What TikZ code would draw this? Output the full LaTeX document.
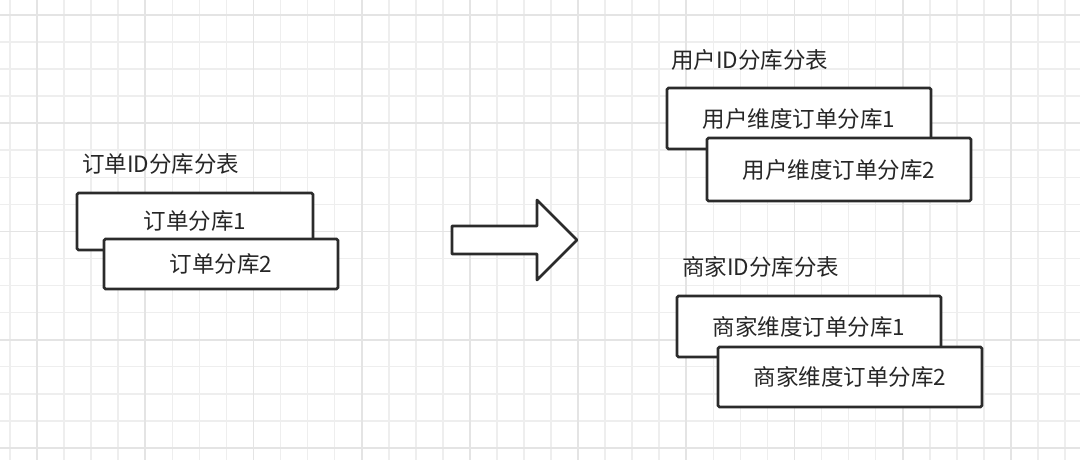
\documentclass[tikz,border=0pt]{standalone}
\usepackage{fontspec}
\setmainfont{Noto Sans CJK SC}
\definecolor{gridminor}{HTML}{EEEEEE}
\definecolor{gridmajor}{HTML}{E4E4E4}
\definecolor{ink}{HTML}{2B2B2B}
\definecolor{txt}{HTML}{262626}
\begin{document}
\begin{tikzpicture}[x=1pt,y=-1pt,
  box/.style={draw=ink, line width=2.7pt, fill=white, rounded corners=1.5pt,
    minimum width=236pt, minimum height=57pt, inner sep=0pt,
    font=\fontsize{22.5}{26}\selectfont, text=txt},
  widebox/.style={box, minimum width=264pt, minimum height=61pt},
  title/.style={anchor=west, inner sep=0pt, font=\fontsize{22.5}{26}\selectfont, text=txt}]
\useasboundingbox (0,0) rectangle (1080,460);
\fill[white] (0,0) rectangle (1080,460);
% grid
\foreach \i in {0,...,39}{
  \draw[gridminor, line width=1.6pt] ({10+27.05*\i},0) -- ({10+27.05*\i},460);
}
\foreach \j in {0,...,16}{
  \draw[gridminor, line width=1.6pt] (0,{15+27.05*\j}) -- (1080,{15+27.05*\j});
}
\foreach \i in {0,...,9}{
  \draw[gridmajor, line width=1.8pt] ({37+108.2*\i},0) -- ({37+108.2*\i},460);
}
\foreach \j in {0,...,4}{
  \draw[gridmajor, line width=1.8pt] (0,{15+108.2*\j}) -- (1080,{15+108.2*\j});
}
% left group
\node[title] (t1) at (82,164) {订单ID分库分表};
\node[box] (a1) at (195,221.5) {\raisebox{-5pt}{订单分库1}};
\node[box, minimum width=234pt, minimum height=50pt] (a2) at (221,264) {\raisebox{-3pt}{订单分库2}};
% arrow
\draw[ink, line width=2.7pt, fill=white, line join=round]
  (452,226) -- (537,226) -- (537,200) -- (577,240) -- (537,280) -- (537,254) -- (452,254) -- cycle;
% right top group
\node[title] (t2) at (671,60) {用户ID分库分表};
\node[widebox] (b1) at (799,118.5) {\raisebox{-5pt}{用户维度订单分库1}};
\node[widebox, minimum height=63pt] (b2) at (839,169.5) {\raisebox{-2pt}{用户维度订单分库2}};
% right bottom group
\node[title] (t3) at (682,267) {商家ID分库分表};
\node[widebox] (c1) at (809,326.5) {\raisebox{-1pt}{商家维度订单分库1}};
\node[widebox, minimum height=60pt] (c2) at (850,377) {\raisebox{-1pt}{商家维度订单分库2}};
\end{tikzpicture}
\end{document}
